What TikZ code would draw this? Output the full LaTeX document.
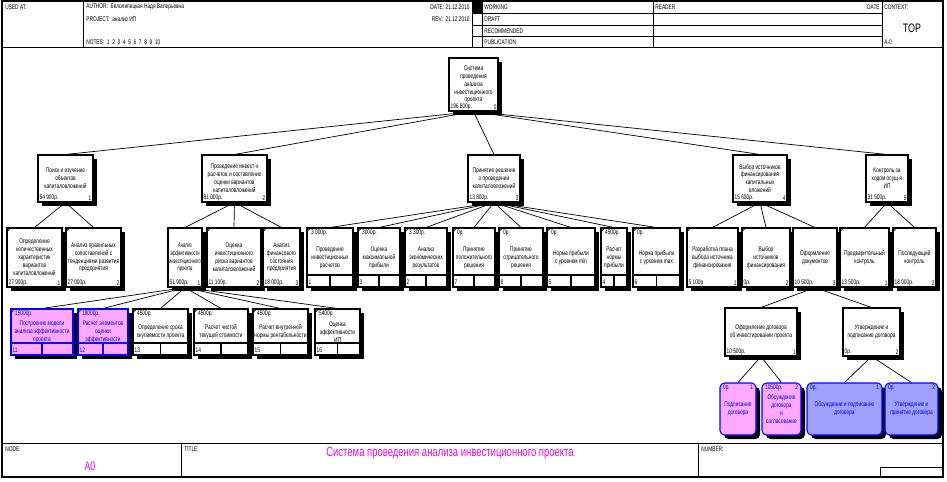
\documentclass[tikz,border=0pt]{standalone}
\usepackage{fontspec}
\setmainfont{Liberation Sans}
\newfontfamily\idef[FakeStretch=0.72]{Liberation Sans}
\newfontfamily\idefn[FakeStretch=0.6]{Liberation Sans}
\usetikzlibrary{shadows,backgrounds}
\definecolor{boxpink}{RGB}{255,168,255}
\definecolor{boxlilac}{RGB}{160,160,255}
\definecolor{boxblue}{RGB}{0,0,255}
\definecolor{titlemag}{RGB}{255,0,255}
\newcommand{\sz}{\fontsize{3.8}{4.5}\selectfont}

\begin{document}
\begin{tikzpicture}
  [x=0.02cm, y=-0.02cm, inner sep=0pt,
   box/.style={draw, fill=white, line width=0.6pt, align=center, font=\idef\sz,
     drop shadow={shadow xshift=0.08cm, shadow yshift=-0.08cm, fill=black, opacity=1}},
   wh/.style 2 args={minimum width=#1*0.02cm, minimum height=#2*0.02cm},
   tag/.style={font=\idef\sz, inner sep=1pt},
   foot/.style 2 args={execute at end node={\\ \mbox{}},
     label={[tag, anchor=south west]south west:#1},
     label={[tag, anchor=south east]south east:#2}},
   leaf/.style={path picture={\draw [line width=0.4pt]
       ([yshift=-0.07cm]path picture bounding box.north west) --
       ([xshift=0.07cm]path picture bounding box.north west);}},
   rowbox/.style 2 args={execute at end node={\\[-2.3pt]\mbox{}},
     label={[tag, anchor=north west, xshift=0.05cm]north west:#1},
     label={[tag, anchor=south west, yshift=0.02cm]south west:#2},
     path picture={
       \draw [line width=0.4pt]
         ([yshift=-0.07cm]path picture bounding box.north west) --
         ([xshift=0.07cm]path picture bounding box.north west);
       \draw [line width=0.6pt]
         ([yshift=0.24cm]path picture bounding box.south west) --
         ([yshift=0.24cm]path picture bounding box.south east);
       \draw [line width=0.6pt]
         ([yshift=0.24cm]path picture bounding box.south) --
         (path picture bounding box.south);}},
   round/.style 2 args={rounded corners=0.09cm,
     label={[tag, anchor=north west, xshift=0.03cm]north west:#1},
     label={[tag, anchor=north east, xshift=-0.03cm]north east:#2}},
   pink/.style={fill=boxpink, draw=boxblue, text=boxblue},
   lilac/.style={fill=boxlilac, draw=boxblue, text=boxblue},
   hdr/.style={anchor=west, font=\idef\sz},
   link/.style={line width=0.4pt}]
  \useasboundingbox (0,0) rectangle (947,481);
  \begin{scope}[on background layer]
    \fill [white] (0,0) rectangle (947,481);
  \end{scope}

  % form frame
  \draw [line width=0.6pt] (2,1) rectangle (943,477);
  \draw (2,47) -- (943,47);
  \draw (83,1) -- (83,47);
  \foreach \x in {472,482,653,882}
    \draw (\x,1) -- (\x,47);
  \foreach \y in {13,25,36}
    \draw (472,\y) -- (882,\y);
  \fill (472,1) rectangle (482,13);
  \draw (2,443) -- (943,443);
  \draw (181,443) -- (181,477);
  \draw (698,443) -- (698,477);
  \draw (880,477) -- (880,467) -- (943,467);

  \node at (5,7) (usedat) [hdr] {USED AT:};
  \node at (86,7) (author) [hdr] {AUTHOR:\ \ Белолипецкая Надя Валерьевна};
  \node at (86,19) (project) [hdr] {PROJECT:\ \ анализ ИП};
  \node at (86,42) (notes) [hdr] {NOTES:\ \ 1\ \ 2\ \ 3\ \ 4\ \ 5\ \ 6\ \ 7\ \ 8\ \ 9\ \ 10};
  \node at (470,7) (date) [hdr, anchor=east] {DATE:\ 21.12.2010};
  \node at (470,19) (rev) [hdr, anchor=east] {REV:\ \ 21.12.2010};
  \node at (484,7) (working) [hdr] {WORKING};
  \node at (484,19) (draft) [hdr] {DRAFT};
  \node at (484,31) (recom) [hdr] {RECOMMENDED};
  \node at (484,42) (publ) [hdr] {PUBLICATION};
  \node at (655,7) (reader) [hdr] {READER};
  \node at (880,7) (rdate) [hdr, anchor=east] {DATE};
  \node at (884,7) (context) [hdr] {CONTEXT:};
  \node at (912,28) (topmark) [font=\idef\fontsize{7}{8}\selectfont] {TOP};
  \node at (884,42) (aminus) [hdr] {A-0};
  \node at (5,449) (nodelbl) [hdr] {NODE:};
  \node at (90,466) (nodeval) [font=\idef\fontsize{7}{8}\selectfont, text=titlemag] {A0};
  \node at (184,449) (titlelbl) [hdr] {TITLE:};
  \node at (450,453) (title) [font=\idef\fontsize{7.5}{9}\selectfont, text=titlemag]
    {Система проведения анализа инвестиционного проекта};
  \node at (701,449) (numlbl) [hdr] {NUMBER:};

  % tree
  \node at (473.5,84.5) (top) [box, wh={49}{53}, foot={196 800р.}{0}]
    {Система\\проведения\\анализа\\инвестиционного\\проекта};

  \node at (65.5,178.5) (n1) [box, wh={55}{47}, foot={54 900р.}{1}]
    {Поиск и изучение\\объектов\\капиталовложений};
  \node at (234.5,178.5) (n2) [box, wh={65}{47}, foot={81 000р.}{2}]
    {Проведение инвест-х\\расчетов и составление\\оценки вариантов\\капиталовложений};
  \node at (494,178.5) (n3) [box, wh={52}{47}, foot={13 800р.}{3}]
    {Принятие решения\\о проведении\\капиталовложений};
  \node at (760,178.5) (n4) [box, wh={54}{47}, foot={15 600р.}{4}]
    {Выбор источников\\финансирования\\капитальных\\вложений};
  \node at (887,178.5) (n5) [box, wh={42}{47}, foot={31 500р.}{5}]
    {Контроль за\\ходом осущ-я\\ИП};

  \node at (34.5,257.5) (a1) [box, leaf, wh={55}{59}, foot={27 900р.}{1}]
    {Определение\\количественных\\характеристик\\вариантов\\капиталовложений};
  \node at (93.5,257.5) (a2) [box, leaf, wh={55}{59}, foot={27 000р.}{2}]
    {Анализ правильных\\сопоставлений с\\тенденциями развития\\предприятия};
  \node at (185,257.5) (c1) [box, wh={34}{59}, foot={51 900р.}{1}, font=\idefn\sz]
    {Анализ\\эффективности\\инвестиционного\\проекта};
  \node at (234,257.5) (c2) [box, leaf, wh={54}{59}, foot={11 100р.}{2}]
    {Оценка\\инвестиционного\\риска вариантов\\капиталовложений};
  \node at (281.5,257.5) (c3) [box, leaf, wh={37}{59}, foot={18 000р.}{3}]
    {Анализ\\финансового\\состояния\\предприятия};

  \node at (330,257.5) (b1) [box, wh={46}{59}, rowbox={3 000р.}{1}]
    {Проведение\\инвестиционных\\расчетов};
  \node at (379,257.5) (b2) [box, wh={42}{59}, rowbox={3000р.}{3}]
    {Оценка\\максимальной\\прибыли};
  \node at (426,257.5) (b3) [box, wh={42}{59}, rowbox={3 300р.}{2}]
    {Анализ\\экономических\\результатов};
  \node at (474,257.5) (b4) [box, wh={42}{59}, rowbox={0р.}{7}]
    {Принятие\\положительного\\решения};
  \node at (521,257.5) (b5) [box, wh={44}{59}, rowbox={0р.}{8}]
    {Принятие\\отрицательного\\решения};
  \node at (571,257.5) (b6) [box, wh={48}{59}, rowbox={0р.}{5}]
    {Норма прибыли\\с уровнем min};
  \node at (614,257.5) (b7) [box, wh={26}{59}, rowbox={4500р.}{4}]
    {Расчет\\нормы\\прибыли};
  \node at (656.5,257.5) (b8) [box, wh={47}{59}, rowbox={0р.}{6}]
    {Норма прибыли\\с уровнем max};

  \node at (712.5,257.5) (h1) [box, leaf, wh={51}{59}, foot={5 100р.}{1}]
    {Разработка плана\\выбора источника\\финансирования};
  \node at (766,257.5) (h2) [box, leaf, wh={48}{59}, foot={0р.}{2}]
    {Выбор\\источников\\финансирования};
  \node at (815,257.5) (h3) [box, wh={44}{59}, foot={10 500р.}{3}]
    {Оформление\\документов};
  \node at (864.5,257.5) (d1) [box, leaf, wh={49}{59}, foot={13 500р.}{1}]
    {Предварительный\\контроль};
  \node at (914.5,257.5) (d2) [box, leaf, wh={43}{59}, foot={18 000р.}{2}]
    {Последующий\\контроль};

  \begin{scope}[every label/.append style={text=boxblue}]
    \node at (42,332) (e1) [box, pink, wh={62}{46}, rowbox={15000р.}{11}]
      {Построение модели\\анализа эффективности\\проекта};
    \node at (103,332) (e2) [box, pink, wh={50}{46}, rowbox={18000р.}{12}]
      {Расчет элементов\\оценки\\эффективности};
  \end{scope}
  \node at (160.5,332) (e3) [box, wh={55}{46}, rowbox={4500р.}{13}]
    {Определение срока\\окупаемости проекта};
  \node at (221,332) (e4) [box, wh={54}{46}, rowbox={4500р.}{14}]
    {Расчет чистой\\текущей стоимости};
  \node at (280.5,332) (e5) [box, wh={55}{46}, rowbox={4500р.}{15}]
    {Расчет внутренней\\нормы рентабельности};
  \node at (337.5,332) (e6) [box, wh={45}{46}, rowbox={5400р.}{16}]
    {Оценка\\эффективности\\ИП};

  \node at (761,332) (f1) [box, wh={72}{48}, foot={10 500р.}{1}]
    {Оформление договора\\об инвестировании проекта};
  \node at (871.5,332) (f2) [box, wh={57}{48}, foot={0р.}{2}]
    {Утверждение и\\подписание договора};

  \begin{scope}[every label/.append style={text=boxblue}]
    \node at (738,409) (g1) [box, pink, wh={36}{52}, round={0р.}{1}]
      {Подписание\\договора};
    \node at (781.5,409) (g2) [box, pink, wh={39}{52}, round={10500р.}{2}]
      {Обсуждение\\договора\\и\\согласование};
    \node at (844.5,409) (g3) [box, lilac, wh={75}{52}, round={0р.}{1}]
      {Обсуждение и подписание\\договора};
    \node at (911.5,409) (g4) [box, lilac, wh={53}{52}, round={0р.}{2}]
      {Утверждение и\\принятие договора};
  \end{scope}

  \begin{scope}[on background layer]
    \foreach \c in {n1,n2,n3,n4,n5}
      \draw [link] (top.south) -- (\c.north);
    \foreach \c in {a1,a2}
      \draw [link] (n1.south) -- (\c.north);
    \foreach \c in {c1,c2,c3}
      \draw [link] (n2.south) -- (\c.north);
    \foreach \c in {b1,b2,b3,b4,b5,b6,b7,b8}
      \draw [link] (n3.south) -- (\c.north);
    \foreach \c in {h1,h2,h3}
      \draw [link] (n4.south) -- (\c.north);
    \foreach \c in {d1,d2}
      \draw [link] (n5.south) -- (\c.north);
    \foreach \c in {e1,e2,e3,e4,e5,e6}
      \draw [link] (c1.south) -- (\c.north);
    \foreach \c in {f1,f2}
      \draw [link] (h3.south) -- (\c.north);
    \foreach \c in {g1,g2}
      \draw [link] (f1.south) -- (\c.north);
    \foreach \c in {g3,g4}
      \draw [link] (f2.south) -- (\c.north);
  \end{scope}
\end{tikzpicture}
\end{document}
